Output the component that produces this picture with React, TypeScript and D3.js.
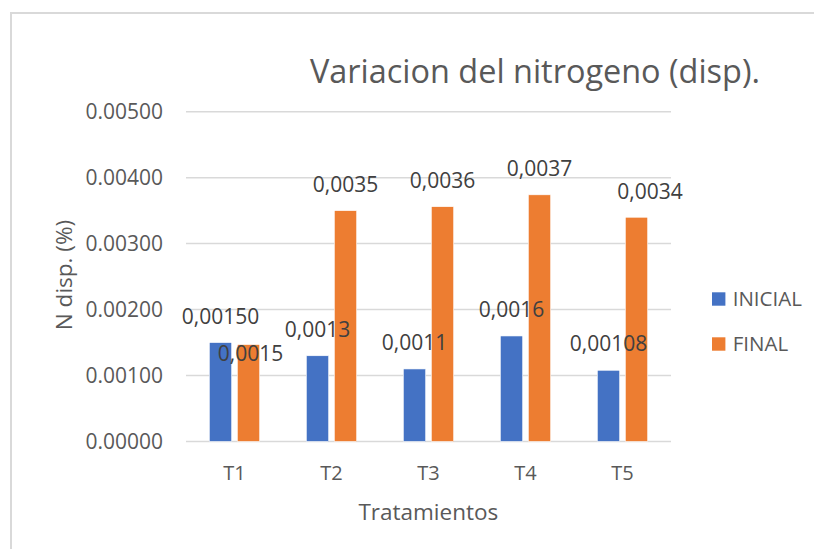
import React from "react";
import * as d3 from "d3";

const categories = ["T1", "T2", "T3", "T4", "T5"];
const seriesNames = ["INICIAL", "FINAL"];
const inicialValues = [0.0015, 0.0013, 0.0011, 0.0016, 0.00108];
const finalValues = [0.00147, 0.0035, 0.00356, 0.00374, 0.0034];
const inicialLabels = ["0,00150", "0,0013", "0,0011", "0,0016", "0,00108"];
const finalLabels = ["0,0015", "0,0035", "0,0036", "0,0037", "0,0034"];
const yTicks = [0, 0.001, 0.002, 0.003, 0.004, 0.005];
const yTickLabels = ["0.00000", "0.00100", "0.00200", "0.00300", "0.00400", "0.00500"];
const colors = ["#4472C4", "#ED7D31"];

const W = 814;
const H = 549;
const FONT = "'Open Sans', 'Segoe UI', sans-serif";

export default function App() {
  const plot = { left: 186, right: 671, top: 111.7, bottom: 441.5 };
  const y = d3.scaleLinear().domain([0, 0.005]).range([plot.bottom, plot.top]);
  const x0 = d3.scaleBand<string>().domain(categories).range([plot.left, plot.right]).padding(0);
  const x1 = d3.scaleBand<string>().domain(seriesNames).range([20.5, 76.5]).padding(0);
  const barW = 22.4;
  const values = [inicialValues, finalValues];
  const labels = [inicialLabels, finalLabels];
  // manual label nudges (dx, dy) relative to default placement above the bar
  const nudges = [
    [[0, 0], [0, 0], [0, 0], [0, 0], [0, 0]],
    [[2, 35], [0, 0], [0, 0], [0, 0], [13.5, 1]],
  ];

  return (
    <svg width={W} height={H} style={{ display: "block", position: "absolute", left: 0, top: 0 }}>
      <rect x={0} y={0} width={W} height={H} fill="#fff" />
      <path d={`M11,${H + 2} L11,13 L${W + 2},13`} fill="none" stroke="#d9d9d9" strokeWidth={2} />
      <text x={310} y={82.7} fontFamily={FONT} fontSize={32.5} fill="#595959" textLength={450} lengthAdjust="spacingAndGlyphs">
        Variacion del nitrogeno (disp).
      </text>
      {yTicks.map((t, i) => (
        <g key={t}>
          <line x1={plot.left} x2={plot.right} y1={y(t)} y2={y(t)} stroke="#d9d9d9" strokeWidth={1.5} />
          <text x={163} y={y(t)} dy="0.35em" textAnchor="end" fontFamily={FONT} fontSize={21} fill="#595959">
            {yTickLabels[i]}
          </text>
        </g>
      ))}
      {categories.map((c, ci) =>
        seriesNames.map((s, si) => {
          const cx = (x0(c) as number) + (x1(s) as number) + x1.bandwidth() / 2;
          const v = values[si][ci];
          return (
            <rect key={c + s} x={cx - barW / 2} y={y(v)} width={barW} height={y(0) - y(v)} fill={colors[si]} stroke="#fff" strokeWidth={0.6} />
          );
        })
      )}
      {categories.map((c, ci) =>
        seriesNames.map((s, si) => {
          const cx = (x0(c) as number) + (x1(s) as number) + x1.bandwidth() / 2;
          const v = values[si][ci];
          const [dx, dy] = nudges[si][ci];
          return (
            <text key={"l" + c + s} x={cx + dx} y={y(v) - 19 + dy} textAnchor="middle" fontFamily={FONT} fontSize={21} fill="#404040">
              {labels[si][ci]}
            </text>
          );
        })
      )}
      {categories.map((c) => (
        <text key={"x" + c} x={(x0(c) as number) + x0.bandwidth() / 2} y={480} textAnchor="middle" fontFamily={FONT} fontSize={20} fill="#595959">
          {c}
        </text>
      ))}
      <text x={428.3} y={520} textAnchor="middle" fontFamily={FONT} fontSize={22.5} fill="#595959">
        Tratamientos
      </text>
      <text transform="translate(72,275) rotate(-90)" textAnchor="middle" fontFamily={FONT} fontSize={22.5} fill="#595959">
        N disp. (%)
      </text>
      {seriesNames.map((s, i) => (
        <g key={"lg" + s} transform={`translate(712,${292.3 + i * 45})`}>
          <rect x={0} y={0} width={13.4} height={13.4} fill={colors[i]} />
          <text x={20.7} y={13.7} fontFamily={FONT} fontSize={20.5} fill="#595959">
            {s}
          </text>
        </g>
      ))}
    </svg>
  );
}
